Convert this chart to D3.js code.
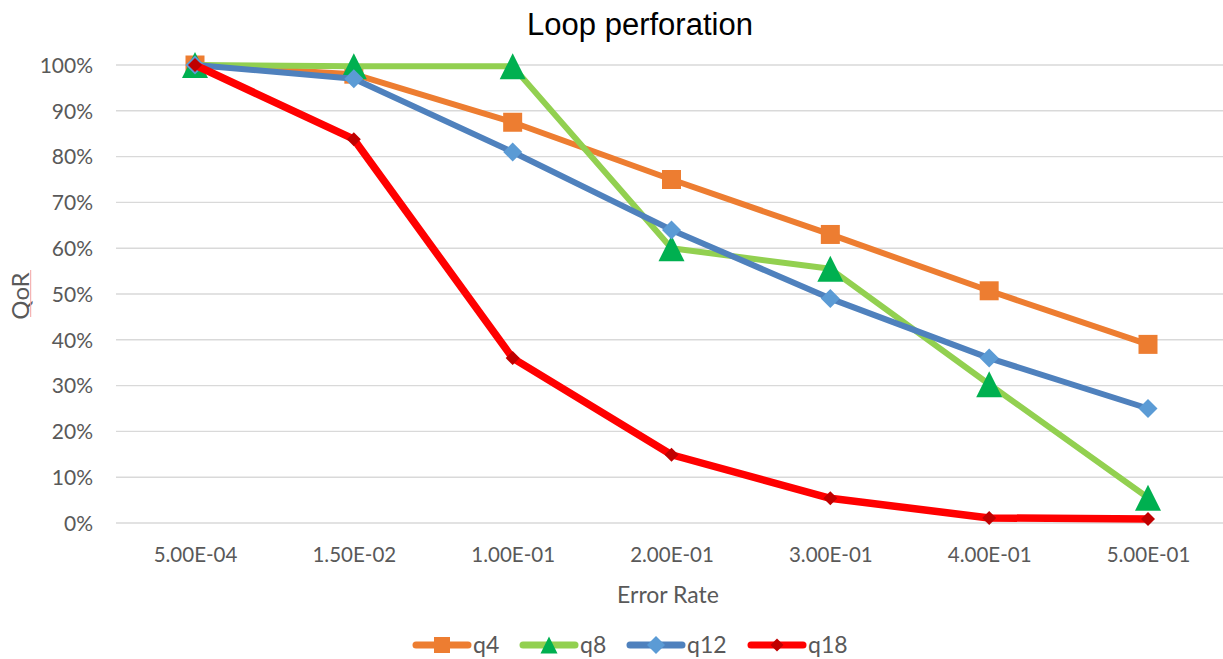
<!DOCTYPE html>
<html>
<head>
<meta charset="utf-8">
<script src="https://cdn.jsdelivr.net/npm/d3@7"></script>
<style>
  html, body { margin: 0; padding: 0; background: #fff; }
  svg { display: block; }
</style>
</head>
<body>
<svg id="chart" width="1223" height="659"></svg>
<script>
const categories = ["5.00E-04", "1.50E-02", "1.00E-01", "2.00E-01", "3.00E-01", "4.00E-01", "5.00E-01"];
const yTicks = [0, 0.1, 0.2, 0.3, 0.4, 0.5, 0.6, 0.7, 0.8, 0.9, 1.0];
const seriesNames = ["q4", "q8", "q12", "q18"];
const q4  = [1.00, 0.98, 0.875, 0.75, 0.63, 0.507, 0.39];
const q8  = [1.00, 0.997, 0.997, 0.60, 0.555, 0.303, 0.055];
const q12 = [1.00, 0.97, 0.81, 0.64, 0.49, 0.36, 0.25];
const q18 = [1.00, 0.838, 0.36, 0.149, 0.054, 0.011, 0.009];

const styles = {
  q4:  { line: "#ED7D31", marker: "#ED7D31", shape: "square",   size: 19, lsize: 16, width: 6 },
  q8:  { line: "#92D050", marker: "#00B050", shape: "triangle", size: 26, lsize: 17, width: 6 },
  q12: { line: "#4F81BD", marker: "#5B9BD5", shape: "diamond",  size: 19, lsize: 18, width: 6 },
  q18: { line: "#FF0000", marker: "#C00000", shape: "diamond",  size: 14, lsize: 13, width: 7.5 }
};
const values = { q4, q8, q12, q18 };

const svg = d3.select("#chart");
const font = "Lato, 'Open Sans', sans-serif";
const gray = "#595959";

const xs = d3.scalePoint().domain(categories).range([195, 1148]);
const y = d3.scaleLinear().domain([0, 1]).range([523, 65]);

// gridlines
svg.append("g").selectAll("line").data(yTicks).join("line")
  .attr("x1", 116).attr("x2", 1223)
  .attr("y1", d => y(d)).attr("y2", d => y(d))
  .attr("stroke", "#D9D9D9").attr("stroke-width", 1.4);

// y axis labels
const yAxis = d3.axisLeft(y).tickValues(yTicks).tickFormat(d3.format(".0%")).tickSize(0).tickPadding(0);
const yg = svg.append("g").attr("transform", "translate(93,0)").call(yAxis);
yg.select(".domain").remove();
yg.selectAll("text").attr("font-family", font).attr("font-size", 21).attr("fill", gray).attr("dy", "0.35em");

// x axis labels
const xAxis = d3.axisBottom(xs).tickSize(0).tickPadding(0);
const xg = svg.append("g").attr("transform", "translate(0,555)").call(xAxis);
xg.select(".domain").remove();
xg.selectAll("text").attr("font-family", font).attr("font-size", 20.5).attr("fill", gray).attr("dy", "0.35em");

// title
svg.append("text").attr("x", 640).attr("y", 35).attr("text-anchor", "middle")
  .attr("font-family", "'Liberation Sans', Arial, sans-serif").attr("font-size", 31)
  .attr("fill", "#000").text("Loop perforation");

// axis titles
svg.append("text").attr("x", 668).attr("y", 595).attr("dy", "0.35em").attr("text-anchor", "middle")
  .attr("font-family", font).attr("font-size", 23).attr("fill", gray).text("Error Rate");
svg.append("text").attr("transform", "translate(21,296) rotate(-90)").attr("dy", "0.35em")
  .attr("text-anchor", "middle").attr("font-family", font).attr("font-size", 24).attr("fill", gray).text("QoR");
svg.append("line").attr("x1", 30.7).attr("x2", 30.7).attr("y1", 270).attr("y2", 317)
  .attr("stroke", "#F3A3A3").attr("stroke-width", 1);

function markerPath(shape, s) {
  const h = s / 2;
  if (shape === "square") return `M${-h},${-h}H${h}V${h}H${-h}Z`;
  if (shape === "triangle") return `M0,${-h}L${h},${h}L${-h},${h}Z`;
  return `M0,${-h}L${h},0L0,${h}L${-h},0Z`;
}

const line = d3.line().x((d, i) => xs(categories[i])).y(d => y(d));

seriesNames.forEach(name => {
  const st = styles[name];
  const g = svg.append("g");
  g.append("path").datum(values[name]).attr("d", line)
    .attr("fill", "none").attr("stroke", st.line).attr("stroke-width", st.width)
    .attr("stroke-linejoin", "round");
  g.selectAll("path.m").data(values[name]).join("path").attr("class", "m")
    .attr("transform", (d, i) => `translate(${xs(categories[i])},${y(d)})`)
    .attr("d", markerPath(st.shape, st.size)).attr("fill", st.marker);
});

// legend
const legendX = [413, 520, 627, 748];
const lg = svg.append("g");
seriesNames.forEach((name, i) => {
  const st = styles[name];
  const x0 = legendX[i], ly = 645;
  lg.append("line").attr("x1", x0 + 3).attr("x2", x0 + 55).attr("y1", ly).attr("y2", ly)
    .attr("stroke", st.line).attr("stroke-width", 7).attr("stroke-linecap", "round");
  lg.append("path").attr("transform", `translate(${x0 + 29},${ly})`)
    .attr("d", markerPath(st.shape, st.lsize)).attr("fill", st.marker);
  lg.append("text").attr("x", x0 + 60).attr("y", ly).attr("dy", "0.35em")
    .attr("font-family", font).attr("font-size", 23).attr("fill", gray).text(name);
});
</script>
</body>
</html>
